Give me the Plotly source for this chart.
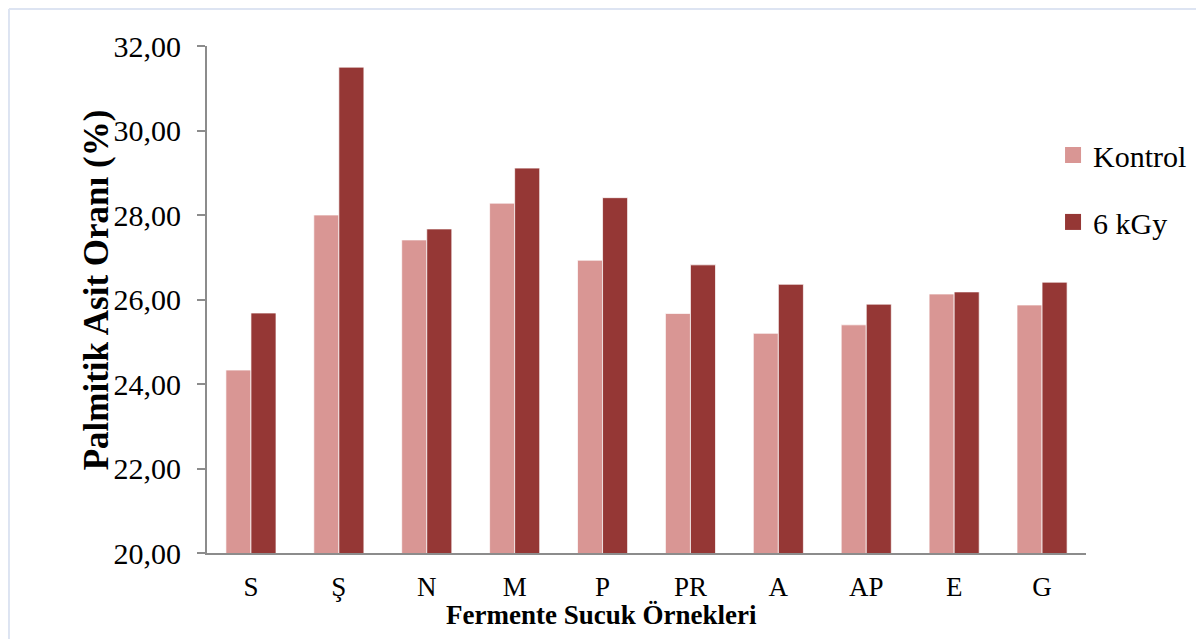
import plotly.graph_objects as go

categories = ["S", "Ş", "N", "M", "P", "PR", "A", "AP", "E", "G"]
kontrol = [24.33, 28.00, 27.41, 28.28, 26.93, 25.67, 25.20, 25.40, 26.13, 25.87]
kgy6 = [25.68, 31.50, 27.67, 29.11, 28.41, 26.82, 26.36, 25.89, 26.18, 26.41]
series_names = ["Kontrol", "6 kGy"]
y_ticks = [20, 22, 24, 26, 28, 30, 32]
x_title = "Fermente Sucuk Örnekleri"
y_title = "Palmitik Asit Oranı (%)"

c_k = "#D99694"
c_6 = "#953735"
font_family = "Liberation Serif, Times New Roman, serif"

fig = go.Figure()
fig.add_trace(go.Bar(x=categories, y=kontrol, name=series_names[0], marker_color=c_k,
                     marker_line=dict(color="rgba(255,255,255,0.7)", width=1), showlegend=False))
fig.add_trace(go.Bar(x=categories, y=kgy6, name=series_names[1], marker_color=c_6,
                     marker_line=dict(color="rgba(255,255,255,0.7)", width=1), showlegend=False))
# legend entries with square markers
fig.add_trace(go.Scatter(x=[None], y=[None], mode="markers", name=series_names[0],
                         marker=dict(symbol="square", size=16, color=c_k), legend="legend"))
fig.add_trace(go.Scatter(x=[None], y=[None], mode="markers", name=series_names[1],
                         marker=dict(symbol="square", size=16, color=c_6), legend="legend2"))

fig.update_layout(
    width=1204, height=639,
    margin=dict(l=199, r=126, t=38, b=94),
    paper_bgcolor="white", plot_bgcolor="white",
    font=dict(family=font_family, color="black"),
    separators=", ",
    barmode="group",
    bargap=0.43, bargroupgap=0,
    legend=dict(x=0.9625, y=0.785, xanchor="left", yanchor="middle",
                font=dict(size=30, family=font_family), bgcolor="rgba(0,0,0,0)"),
    legend2=dict(x=0.9625, y=0.653, xanchor="left", yanchor="middle",
                 font=dict(size=30, family=font_family), bgcolor="rgba(0,0,0,0)"),
    xaxis=dict(
        showline=True, linecolor="#8c8c8c", linewidth=2, ticks="",
        tickfont=dict(size=27, family=font_family),
        ticklabelstandoff=9,
        showgrid=False, zeroline=False,
    ),
    yaxis=dict(
        range=[20, 32], tickvals=y_ticks, tickformat=".2f",
        showline=True, linecolor="#8c8c8c", linewidth=2,
        ticks="outside", ticklen=8, tickcolor="#8c8c8c", tickwidth=2,
        tickfont=dict(size=30, family=font_family),
        ticklabelstandoff=10,
        showgrid=False, zeroline=False,
    ),
    annotations=[
        dict(text="<b>" + x_title + "</b>", xref="paper", yref="paper", x=0.449, y=-0.122,
             xanchor="center", yanchor="middle", showarrow=False,
             font=dict(size=27, family=font_family, color="black")),
        dict(text="<b>" + y_title + "</b>", xref="paper", yref="paper", x=-0.1263, y=0.52,
             xanchor="center", yanchor="middle", showarrow=False, textangle=-90,
             font=dict(size=35, family=font_family, color="black")),
    ],
    shapes=[
        dict(type="line", xref="paper", yref="paper", x0=-0.2253, x1=1.2, y0=1.073, y1=1.073,
             line=dict(color="#dde4f2", width=2)),
        dict(type="line", xref="paper", yref="paper", x0=-0.2253, x1=-0.2253, y0=1.073, y1=-0.2,
             line=dict(color="#dde4f2", width=2)),
    ],
)

fig.write_html("out.html")
